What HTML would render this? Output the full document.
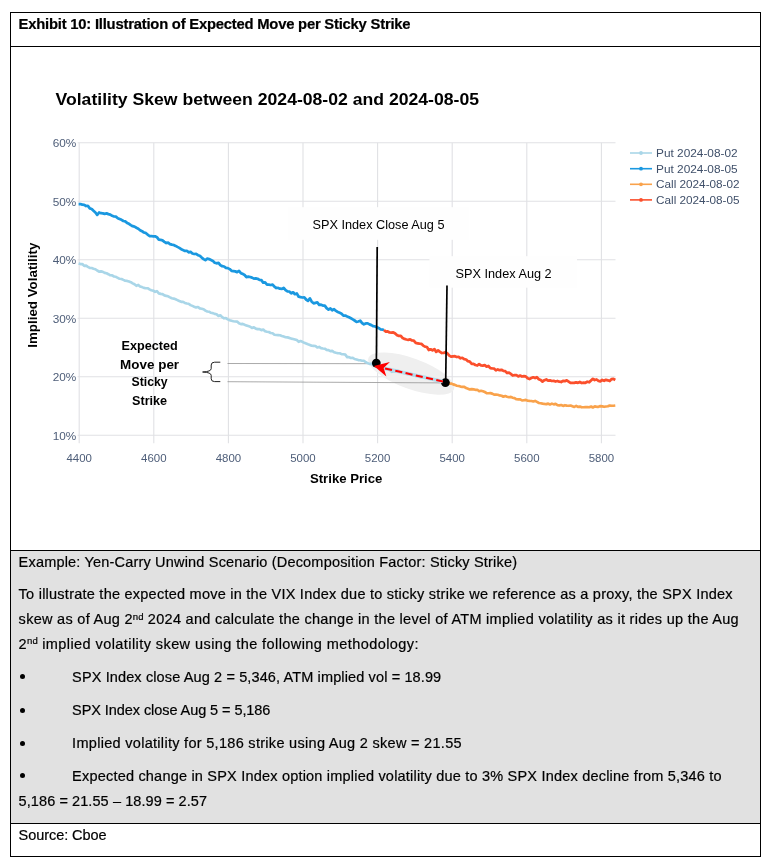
<!DOCTYPE html>
<html><head><meta charset="utf-8"><title>Exhibit 10</title>
<style>
html,body{margin:0;padding:0;background:#fff}
body{width:768px;height:866px;position:relative;overflow:hidden;will-change:transform;font-family:"Liberation Sans",sans-serif;color:#000}
.frame{position:absolute;left:10px;top:12px;width:749px;height:843px;border:1.3px solid #000;box-sizing:content-box}
.hl{position:absolute;left:10px;width:751px;height:1.3px;background:#000}
.gray{position:absolute;left:11px;top:551px;width:748.5px;height:272px;background:#e1e1e1}
.t{position:absolute;white-space:nowrap;height:26px;line-height:26px;color:#000;-webkit-text-stroke:0.2px #000}
.t sup{font-size:66%;vertical-align:baseline;position:relative;top:-0.46em;line-height:0;letter-spacing:0}
.bu{position:absolute;width:5px;height:5px;border-radius:50%;background:#000}
</style></head><body>
<div class="gray"></div>
<div class="frame"></div>
<div class="hl" style="top:46px"></div>
<div class="hl" style="top:550px"></div>
<div class="hl" style="top:823px"></div>
<svg id="chart" width="768" height="866" viewBox="0 0 768 866" style="position:absolute;left:0;top:0">
<g stroke="#e0e1e4" stroke-width="1.1" fill="none">
<line x1="79.2" y1="142.8" x2="79.2" y2="443.2"/>
<line x1="153.8" y1="142.8" x2="153.8" y2="443.2"/>
<line x1="228.4" y1="142.8" x2="228.4" y2="443.2"/>
<line x1="303.0" y1="142.8" x2="303.0" y2="443.2"/>
<line x1="377.6" y1="142.8" x2="377.6" y2="443.2"/>
<line x1="452.2" y1="142.8" x2="452.2" y2="443.2"/>
<line x1="526.8" y1="142.8" x2="526.8" y2="443.2"/>
<line x1="601.4" y1="142.8" x2="601.4" y2="443.2"/>
<line x1="77.6" y1="435.2" x2="615.5" y2="435.2"/>
<line x1="77.6" y1="376.7" x2="615.5" y2="376.7"/>
<line x1="77.6" y1="318.3" x2="615.5" y2="318.3"/>
<line x1="77.6" y1="259.8" x2="615.5" y2="259.8"/>
<line x1="77.6" y1="201.3" x2="615.5" y2="201.3"/>
<line x1="77.6" y1="142.8" x2="615.5" y2="142.8"/>
</g>
<g font-family="Liberation Sans, sans-serif" font-size="10.2" fill="#4d5d78">
<text x="79.2" y="462.2" text-anchor="middle" textLength="25.5" lengthAdjust="spacingAndGlyphs">4400</text>
<text x="153.8" y="462.2" text-anchor="middle" textLength="25.5" lengthAdjust="spacingAndGlyphs">4600</text>
<text x="228.4" y="462.2" text-anchor="middle" textLength="25.5" lengthAdjust="spacingAndGlyphs">4800</text>
<text x="303.0" y="462.2" text-anchor="middle" textLength="25.5" lengthAdjust="spacingAndGlyphs">5000</text>
<text x="377.6" y="462.2" text-anchor="middle" textLength="25.5" lengthAdjust="spacingAndGlyphs">5200</text>
<text x="452.2" y="462.2" text-anchor="middle" textLength="25.5" lengthAdjust="spacingAndGlyphs">5400</text>
<text x="526.8" y="462.2" text-anchor="middle" textLength="25.5" lengthAdjust="spacingAndGlyphs">5600</text>
<text x="601.4" y="462.2" text-anchor="middle" textLength="25.5" lengthAdjust="spacingAndGlyphs">5800</text>
<text x="76.3" y="439.5" text-anchor="end" textLength="23.6" lengthAdjust="spacingAndGlyphs">10%</text>
<text x="76.3" y="381.0" text-anchor="end" textLength="23.6" lengthAdjust="spacingAndGlyphs">20%</text>
<text x="76.3" y="322.6" text-anchor="end" textLength="23.6" lengthAdjust="spacingAndGlyphs">30%</text>
<text x="76.3" y="264.1" text-anchor="end" textLength="23.6" lengthAdjust="spacingAndGlyphs">40%</text>
<text x="76.3" y="205.6" text-anchor="end" textLength="23.6" lengthAdjust="spacingAndGlyphs">50%</text>
<text x="76.3" y="147.1" text-anchor="end" textLength="23.6" lengthAdjust="spacingAndGlyphs">60%</text>
</g>
<text x="55.5" y="104.7" font-family="Liberation Sans, sans-serif" font-weight="bold" font-size="16.2" fill="#000" textLength="423.5" lengthAdjust="spacingAndGlyphs">Volatility Skew between 2024-08-02 and 2024-08-05</text>
<text x="346.2" y="482.8" text-anchor="middle" font-family="Liberation Sans, sans-serif" font-weight="bold" font-size="12.8" fill="#000" textLength="72.5" lengthAdjust="spacingAndGlyphs">Strike Price</text>
<text transform="translate(36.6 295.2) rotate(-90)" text-anchor="middle" font-family="Liberation Sans, sans-serif" font-weight="bold" font-size="12.8" fill="#000" textLength="105" lengthAdjust="spacingAndGlyphs">Implied Volatility</text>
<line x1="630" y1="153.0" x2="652" y2="153.0" stroke="#a9d6e8" stroke-width="1.6"/>
<circle cx="641" cy="153.0" r="1.9" fill="#a9d6e8"/>
<text x="656" y="157.1" font-family="Liberation Sans, sans-serif" font-size="10.2" fill="#3f4f69" textLength="81.6" lengthAdjust="spacingAndGlyphs">Put 2024-08-02</text>
<line x1="630" y1="168.7" x2="652" y2="168.7" stroke="#1a98e0" stroke-width="1.6"/>
<circle cx="641" cy="168.7" r="1.9" fill="#1a98e0"/>
<text x="656" y="172.8" font-family="Liberation Sans, sans-serif" font-size="10.2" fill="#3f4f69" textLength="81.6" lengthAdjust="spacingAndGlyphs">Put 2024-08-05</text>
<line x1="630" y1="184.3" x2="652" y2="184.3" stroke="#f9a24b" stroke-width="1.6"/>
<circle cx="641" cy="184.3" r="1.9" fill="#f9a24b"/>
<text x="656" y="188.4" font-family="Liberation Sans, sans-serif" font-size="10.2" fill="#3f4f69" textLength="83.6" lengthAdjust="spacingAndGlyphs">Call 2024-08-02</text>
<line x1="630" y1="199.9" x2="652" y2="199.9" stroke="#fb4f2c" stroke-width="1.6"/>
<circle cx="641" cy="199.9" r="1.9" fill="#fb4f2c"/>
<text x="656" y="204.0" font-family="Liberation Sans, sans-serif" font-size="10.2" fill="#3f4f69" textLength="83.6" lengthAdjust="spacingAndGlyphs">Call 2024-08-05</text>
<rect x="288.2" y="207.2" width="181" height="32.6" fill="#fefefe"/>
<rect x="429.4" y="256.2" width="147.6" height="31.5" fill="#fefefe"/>
<ellipse cx="411.2" cy="373.6" rx="45.5" ry="15.3" fill="#efefef" transform="rotate(20 411.2 373.6)"/>
<line x1="227.5" y1="363.5" x2="376" y2="363.7" stroke="#949494" stroke-width="0.8"/>
<line x1="227.5" y1="381.7" x2="445" y2="382.9" stroke="#949494" stroke-width="0.8"/>
<g fill="none" stroke-width="2.75" stroke-linejoin="round" stroke-linecap="butt">
<path stroke="#a9d6e8" stroke-width="2.65" d="M78.6 263.5 L80.5 264.1 L82.3 264.0 L84.2 265.9 L86.1 265.6 L87.9 266.8 L89.8 267.9 L91.7 268.0 L93.5 268.7 L95.4 269.2 L97.2 270.5 L99.1 271.6 L101.0 271.4 L102.8 271.8 L104.7 272.9 L106.6 273.3 L108.4 274.2 L110.3 275.3 L112.2 275.4 L114.0 276.5 L115.9 276.8 L117.8 277.8 L119.6 278.8 L121.5 279.0 L123.4 279.9 L125.2 280.7 L127.1 280.9 L129.0 281.5 L130.8 282.2 L132.7 283.4 L134.5 284.3 L136.4 285.8 L138.3 284.9 L140.1 286.4 L142.0 287.1 L143.9 287.9 L145.7 288.2 L147.6 288.2 L149.5 289.4 L151.3 290.2 L153.2 290.6 L155.1 291.8 L156.9 291.2 L158.8 293.4 L160.7 293.9 L162.5 294.1 L164.4 295.4 L166.3 295.9 L168.1 296.3 L170.0 297.4 L171.8 298.3 L173.7 298.6 L175.6 299.3 L177.4 300.1 L179.3 301.0 L181.2 301.8 L183.0 301.8 L184.9 302.9 L186.8 303.5 L188.6 303.7 L190.5 305.1 L192.4 305.9 L194.2 306.7 L196.1 307.4 L198.0 307.0 L199.8 308.4 L201.7 308.7 L203.6 309.2 L205.4 310.6 L207.3 311.5 L209.1 311.7 L211.0 312.8 L212.9 313.1 L214.7 313.9 L216.6 314.3 L218.5 316.0 L220.3 315.3 L222.2 317.1 L224.1 318.3 L225.9 318.1 L227.8 319.4 L229.7 320.2 L231.5 320.8 L233.4 321.3 L235.3 321.5 L237.1 321.6 L239.0 323.3 L240.9 324.1 L242.7 323.9 L244.6 324.7 L246.4 325.4 L248.3 326.1 L250.2 326.7 L252.0 328.0 L253.9 327.3 L255.8 328.6 L257.6 329.1 L259.5 329.1 L261.4 330.2 L263.2 329.6 L265.1 331.3 L267.0 331.8 L268.8 332.0 L270.7 333.0 L272.6 333.2 L274.4 334.7 L276.3 335.0 L278.2 335.1 L280.0 335.3 L281.9 336.0 L283.7 336.6 L285.6 337.2 L287.5 337.4 L289.3 337.9 L291.2 338.6 L293.1 339.0 L294.9 339.5 L296.8 340.1 L298.7 341.8 L300.5 341.1 L302.4 341.8 L304.3 342.8 L306.1 343.5 L308.0 344.3 L309.9 345.0 L311.7 345.8 L313.6 345.9 L315.5 346.0 L317.3 347.5 L319.2 346.9 L321.0 348.1 L322.9 348.5 L324.8 348.7 L326.6 349.9 L328.5 350.1 L330.4 351.1 L332.2 350.9 L334.1 352.3 L336.0 352.8 L337.8 353.2 L339.7 353.2 L341.6 354.1 L343.4 354.2 L345.3 354.6 L347.2 357.1 L349.0 357.1 L350.9 358.0 L352.8 357.8 L354.6 359.0 L356.5 359.5 L358.3 360.1 L360.2 360.3 L362.1 360.7 L363.9 360.8 L365.8 362.3 L367.7 363.1 L369.5 363.9 L371.4 363.7 L373.3 365.1 L375.1 364.7 L377.0 365.4 L378.9 367.1 L380.7 367.1 L382.6 367.6 L384.5 368.3 L386.3 369.0 L388.2 369.4 L390.1 370.0 L391.9 371.9 L393.8 371.1 L395.6 371.6 L397.5 370.7 L399.4 371.8 L401.2 372.5 L403.1 372.6 L405.0 372.9 L406.8 373.8 L408.7 373.8 L410.6 374.1 L412.4 375.1 L414.3 375.8 L416.2 376.0 L418.0 376.2 L419.9 377.0 L421.8 377.2 L423.6 377.4 L425.5 377.1 L427.4 377.9 L429.2 378.5 L431.1 379.0 L432.9 379.6 L434.8 379.9 L436.7 379.8 L438.5 380.6 L440.4 381.1 L442.3 382.6 L444.1 382.6 L445.6 382.4"/>
<path stroke="#f9a24b" stroke-width="2.65" d="M445.6 382.7 L447.5 383.2 L449.3 383.6 L451.2 383.5 L453.1 384.4 L454.9 384.9 L456.8 385.7 L458.7 386.0 L460.5 386.6 L462.4 386.9 L464.3 386.9 L466.1 388.1 L468.0 388.7 L469.8 389.4 L471.7 389.1 L473.6 389.4 L475.4 389.8 L477.3 389.8 L479.2 391.2 L481.0 390.8 L482.9 391.2 L484.8 392.0 L486.6 393.1 L488.5 393.2 L490.4 393.1 L492.2 393.6 L494.1 394.6 L496.0 394.6 L497.8 394.8 L499.7 395.4 L501.6 395.8 L503.4 396.7 L505.3 396.0 L507.1 396.7 L509.0 397.2 L510.9 396.9 L512.7 397.7 L514.6 398.1 L516.5 399.3 L518.3 399.4 L520.2 399.3 L522.1 400.5 L523.9 400.2 L525.8 399.9 L527.7 400.7 L529.5 400.9 L531.4 401.0 L533.3 401.5 L535.1 400.9 L537.0 401.9 L538.9 403.0 L540.7 403.2 L542.6 403.6 L544.4 403.9 L546.3 404.1 L548.2 403.6 L550.0 404.5 L551.9 403.6 L553.8 404.4 L555.6 403.9 L557.5 405.1 L559.4 405.4 L561.2 405.0 L563.1 405.9 L565.0 405.2 L566.8 405.6 L568.7 405.8 L570.6 405.5 L572.4 406.2 L574.3 406.9 L576.2 405.8 L578.0 406.9 L579.9 406.6 L581.7 407.3 L583.6 407.2 L585.5 407.0 L587.3 407.1 L589.2 407.2 L591.1 406.5 L592.9 407.5 L594.8 406.4 L596.7 406.8 L598.5 406.8 L600.4 406.1 L602.3 406.4 L604.1 406.8 L606.0 406.5 L607.9 406.3 L609.7 405.5 L611.6 405.8 L613.5 405.7 L615.3 405.5"/>
<path stroke="#1a98e0" d="M78.6 204.0 L80.5 204.0 L82.3 204.7 L84.2 204.8 L86.1 206.0 L87.9 205.9 L89.8 208.4 L91.7 209.0 L93.5 210.8 L95.4 212.5 L97.2 214.9 L99.1 212.5 L101.0 213.2 L102.8 213.3 L104.7 213.8 L106.6 213.4 L108.4 214.1 L110.3 214.6 L112.2 215.8 L114.0 216.5 L115.9 216.6 L117.8 218.2 L119.6 219.0 L121.5 219.8 L123.4 221.0 L125.2 221.4 L127.1 222.9 L129.0 223.8 L130.8 225.1 L132.7 226.2 L134.5 226.6 L136.4 227.7 L138.3 228.7 L140.1 230.2 L142.0 231.2 L143.9 232.5 L145.7 232.9 L147.6 234.6 L149.5 236.0 L151.3 236.0 L153.2 236.3 L155.1 236.3 L156.9 237.2 L158.8 239.7 L160.7 239.9 L162.5 240.3 L164.4 241.8 L166.3 243.0 L168.1 242.7 L170.0 244.1 L171.8 244.6 L173.7 245.0 L175.6 245.9 L177.4 246.9 L179.3 247.9 L181.2 249.2 L183.0 250.1 L184.9 250.9 L186.8 250.8 L188.6 252.3 L190.5 251.8 L192.4 253.5 L194.2 254.0 L196.1 253.8 L198.0 255.2 L199.8 255.8 L201.7 257.6 L203.6 259.1 L205.4 260.2 L207.3 258.7 L209.1 259.1 L211.0 260.0 L212.9 260.9 L214.7 262.7 L216.6 263.3 L218.5 262.8 L220.3 265.1 L222.2 266.2 L224.1 266.5 L225.9 267.9 L227.8 268.1 L229.7 269.1 L231.5 270.8 L233.4 271.1 L235.3 271.4 L237.1 272.1 L239.0 270.9 L240.9 273.2 L242.7 273.9 L244.6 275.0 L246.4 277.1 L248.3 276.7 L250.2 277.0 L252.0 277.6 L253.9 278.6 L255.8 278.4 L257.6 278.8 L259.5 279.9 L261.4 280.1 L263.2 282.7 L265.1 282.4 L267.0 284.6 L268.8 284.7 L270.7 285.0 L272.6 284.6 L274.4 286.7 L276.3 288.0 L278.2 287.9 L280.0 288.7 L281.9 288.9 L283.7 287.8 L285.6 290.1 L287.5 291.4 L289.3 291.5 L291.2 293.4 L293.1 292.3 L294.9 294.2 L296.8 293.5 L298.7 296.7 L300.5 297.1 L302.4 297.5 L304.3 297.4 L306.1 299.5 L308.0 300.8 L309.9 298.4 L311.7 301.7 L313.6 303.3 L315.5 302.8 L317.3 302.4 L319.2 304.8 L321.0 304.7 L322.9 305.6 L324.8 305.6 L326.6 308.1 L328.5 309.6 L330.4 308.5 L332.2 310.3 L334.1 309.2 L336.0 310.9 L337.8 312.0 L339.7 312.8 L341.6 313.7 L343.4 315.6 L345.3 315.6 L347.2 316.5 L349.0 317.3 L350.9 318.3 L352.8 319.4 L354.6 320.5 L356.5 321.8 L358.3 321.5 L360.2 320.7 L362.1 323.1 L363.9 324.3 L365.8 323.4 L367.7 323.4 L369.5 324.4 L371.4 325.1 L373.3 326.2 L375.1 326.4 L377.0 327.3 L378.9 328.2 L380.7 329.5 L382.6 329.7 L384.0 330.0"/>
<path stroke="#fb4f2c" d="M384.0 330.0 L385.9 331.7 L387.7 331.3 L389.6 332.5 L391.5 332.7 L393.3 332.3 L395.2 333.5 L397.1 335.3 L398.9 335.9 L400.8 335.8 L402.7 338.1 L404.5 338.9 L406.4 339.5 L408.2 339.8 L410.1 339.3 L412.0 340.5 L413.8 340.7 L415.7 342.9 L417.6 343.3 L419.4 343.7 L421.3 343.8 L423.2 345.6 L425.0 346.7 L426.9 347.0 L428.8 350.0 L430.6 349.3 L432.5 350.4 L434.4 349.1 L436.2 351.9 L438.1 350.4 L440.0 351.9 L441.8 353.0 L443.7 352.9 L445.5 352.2 L447.4 353.4 L449.3 355.6 L451.1 356.7 L453.0 356.3 L454.9 356.2 L456.7 357.0 L458.6 356.9 L460.5 358.3 L462.3 357.8 L464.2 359.1 L466.1 359.5 L467.9 361.2 L469.8 361.6 L471.7 363.8 L473.5 363.9 L475.4 365.0 L477.3 365.5 L479.1 364.1 L481.0 365.4 L482.8 365.6 L484.7 365.1 L486.6 366.6 L488.4 366.0 L490.3 368.1 L492.2 368.4 L494.0 368.5 L495.9 370.4 L497.8 369.4 L499.6 370.2 L501.5 369.8 L503.4 370.9 L505.2 371.1 L507.1 373.0 L509.0 372.7 L510.8 373.9 L512.7 375.5 L514.6 375.1 L516.4 375.2 L518.3 376.4 L520.1 375.6 L522.0 376.5 L523.9 376.2 L525.7 376.4 L527.6 378.3 L529.5 379.0 L531.3 378.1 L533.2 377.3 L535.1 378.1 L536.9 377.2 L538.8 379.2 L540.7 380.0 L542.5 381.6 L544.4 380.2 L546.3 379.5 L548.1 380.6 L550.0 380.4 L551.9 381.0 L553.7 380.9 L555.6 381.5 L557.4 381.0 L559.3 381.7 L561.2 382.0 L563.0 380.8 L564.9 381.1 L566.8 380.4 L568.6 381.6 L570.5 382.9 L572.4 382.9 L574.2 382.9 L576.1 382.3 L578.0 382.8 L579.8 382.0 L581.7 383.0 L583.6 382.7 L585.4 382.8 L587.3 381.7 L589.2 382.3 L591.0 380.6 L592.9 378.8 L594.7 380.0 L596.6 379.5 L598.5 380.9 L600.3 381.3 L602.2 379.9 L604.1 380.8 L605.9 379.8 L607.8 380.3 L609.7 381.0 L611.5 379.1 L613.4 378.9 L615.3 380.0"/>
</g>
<line x1="377.2" y1="247" x2="376.4" y2="362" stroke="#000" stroke-width="1.7"/>
<line x1="447" y1="285.4" x2="445.7" y2="382" stroke="#000" stroke-width="1.7"/>
<circle cx="376.3" cy="363.1" r="4.4" fill="#000"/>
<circle cx="445.4" cy="382.6" r="4.4" fill="#000"/>
<line x1="384.3" y1="368.3" x2="442.7" y2="381.5" stroke="#b4dbea" stroke-width="3.6"/>
<line x1="442.9" y1="381.55" x2="384" y2="368.2" stroke="#f00" stroke-width="2.1" stroke-dasharray="7.1 3.4" stroke-dashoffset="0.3"/>
<path d="M373.9 365.9 L389.9 361.9 L383.6 367.9 L386.4 376.4 Z" fill="#f00"/>
<path d="M220.3 362.2 L214.6 362.2 Q211.2 362.2 211.2 365 L211.2 368.6 Q211.2 371.6 202.6 372 Q211.2 372.4 211.2 375.4 L211.2 378.8 Q211.2 381.6 214.6 381.6 L220.3 381.6" fill="none" stroke="#222" stroke-width="1"/>
<g font-family="Liberation Sans, sans-serif" fill="#000">
<text x="312.5" y="228.8" font-size="13.3" textLength="132" lengthAdjust="spacingAndGlyphs">SPX Index Close Aug 5</text>
<text x="455.6" y="277.5" font-size="13.3" textLength="96" lengthAdjust="spacingAndGlyphs">SPX Index Aug 2</text>
<text x="149.6" y="349.6" font-size="12.4" font-weight="bold" text-anchor="middle" textLength="56.2" lengthAdjust="spacingAndGlyphs">Expected</text>
<text x="149.6" y="368.7" font-size="12.4" font-weight="bold" text-anchor="middle" textLength="59.0" lengthAdjust="spacingAndGlyphs">Move per</text>
<text x="149.6" y="386.4" font-size="12.4" font-weight="bold" text-anchor="middle" textLength="36.1" lengthAdjust="spacingAndGlyphs">Sticky</text>
<text x="149.6" y="404.6" font-size="12.4" font-weight="bold" text-anchor="middle" textLength="35.1" lengthAdjust="spacingAndGlyphs">Strike</text>
</g>
</svg>
<div class="t" id="h" style="left:18.60px;top:10.77px;font-size:14.8px;font-weight:bold;letter-spacing:-0.217px">Exhibit 10: Illustration of Expected Move per Sticky Strike</div>
<div class="t" id="l1" style="left:18.60px;top:548.73px;font-size:14.5px;font-weight:normal;letter-spacing:0.187px">Example: Yen-Carry Unwind Scenario (Decomposition Factor: Sticky Strike)</div>
<div class="t" id="l2" style="left:18.60px;top:581.28px;font-size:14.5px;font-weight:normal;letter-spacing:0.243px">To illustrate the expected move in the VIX Index due to sticky strike we reference as a proxy, the SPX Index</div>
<div class="t" id="l3" style="left:18.60px;top:606.48px;font-size:14.5px;font-weight:normal;letter-spacing:0.290px">skew as of Aug 2<sup>nd</sup> 2024 and calculate the change in the level of ATM implied volatility as it rides up the Aug</div>
<div class="t" id="l4" style="left:18.60px;top:630.78px;font-size:14.5px;font-weight:normal;letter-spacing:0.423px">2<sup>nd</sup> implied volatility skew using the following methodology:</div>
<div class="t" id="b1" style="left:72.10px;top:663.58px;font-size:14.5px;font-weight:normal;letter-spacing:0.125px">SPX Index close Aug 2 = 5,346, ATM implied vol = 18.99</div>
<div class="t" id="b2" style="left:72.10px;top:696.98px;font-size:14.5px;font-weight:normal;letter-spacing:-0.072px">SPX Index close Aug 5 = 5,186</div>
<div class="t" id="b3" style="left:72.10px;top:729.78px;font-size:14.5px;font-weight:normal;letter-spacing:0.297px">Implied volatility for 5,186 strike using Aug 2 skew = 21.55</div>
<div class="t" id="b4" style="left:72.10px;top:762.58px;font-size:14.5px;font-weight:normal;letter-spacing:0.202px">Expected change in SPX Index option implied volatility due to 3% SPX Index decline from 5,346 to</div>
<div class="t" id="b5" style="left:18.60px;top:787.98px;font-size:14.5px;font-weight:normal;letter-spacing:0.083px">5,186 = 21.55 &ndash; 18.99 = 2.57</div>
<div class="t" id="s" style="left:18.60px;top:821.58px;font-size:14.5px;font-weight:normal;letter-spacing:-0.061px">Source: Cboe</div>
<div class="bu" style="left:20px;top:674.4px"></div>
<div class="bu" style="left:20px;top:707.8px"></div>
<div class="bu" style="left:20px;top:740.6px"></div>
<div class="bu" style="left:20px;top:773.4px"></div>
</body></html>
